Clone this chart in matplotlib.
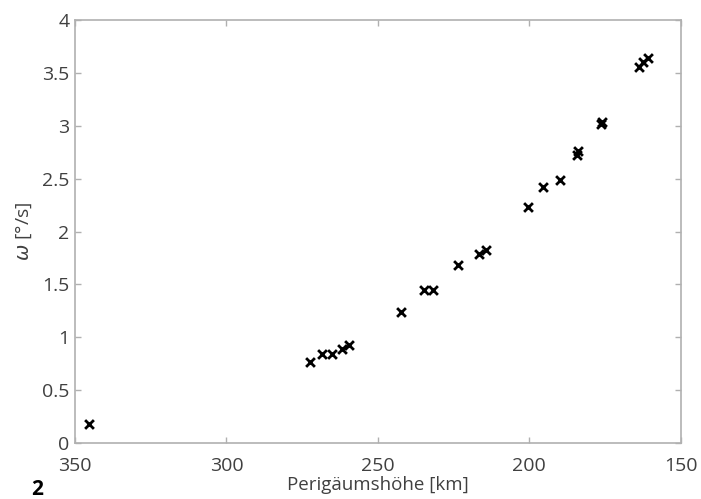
import matplotlib

matplotlib.use("Agg")
import matplotlib.pyplot as plt

# Perigee height (km) and angular rate omega (deg/s)
perigee_km = [345.4, 272.4, 268.5, 265.2, 261.9, 259.6, 242.2, 234.8, 231.8,
              223.5, 216.7, 214.4, 200.4, 195.4, 189.7, 184.2, 184.0,
              176.2, 176.0, 163.8, 162.4, 160.8]
omega_dps = [0.18, 0.77, 0.84, 0.84, 0.89, 0.93, 1.24, 1.45, 1.45,
             1.68, 1.79, 1.83, 2.23, 2.42, 2.49, 2.72, 2.76,
             3.02, 3.04, 3.56, 3.60, 3.64]

x_ticks = [350, 300, 250, 200, 150]
y_ticks = [0, 0.5, 1, 1.5, 2, 2.5, 3, 3.5, 4]
y_tick_labels = ["0", "0.5", "1", "1.5", "2", "2.5", "3", "3.5", "4"]

plt.rcParams["font.family"] = ["Open Sans", "DejaVu Sans"]

fig = plt.figure(figsize=(7.01, 4.99), dpi=100)
ax = fig.add_axes([0.107, 0.112, 0.864, 0.848])

ax.scatter(perigee_km, omega_dps, marker="x", s=40, color="black", linewidths=2.0, zorder=3)

ax.set_xlim(350, 150)
ax.set_ylim(0, 4)
ax.set_xticks(x_ticks)
ax.set_xticklabels([str(t) for t in x_ticks])
ax.set_yticks(y_ticks)
ax.set_yticklabels(y_tick_labels)

grey = "#b0b0b0"
for s in ax.spines.values():
    s.set_color(grey)
    s.set_linewidth(1.2)
ax.tick_params(direction="in", length=4, width=1, color=grey, labelcolor="#404040",
               labelsize=14, top=True, right=True)
ax.tick_params(axis="x", pad=10)
ax.tick_params(axis="y", pad=4)

ax.set_xlabel("Perigäumshöhe [km]", fontsize=13.5, color="#404040", labelpad=1)
ax.set_ylabel(r"$\omega$ [°/s]", fontsize=14, color="#404040", labelpad=6)

fig.text(0.045, 0.008, "2", fontsize=15, fontweight="bold", color="black")

fig.savefig("out.png", dpi=100)
